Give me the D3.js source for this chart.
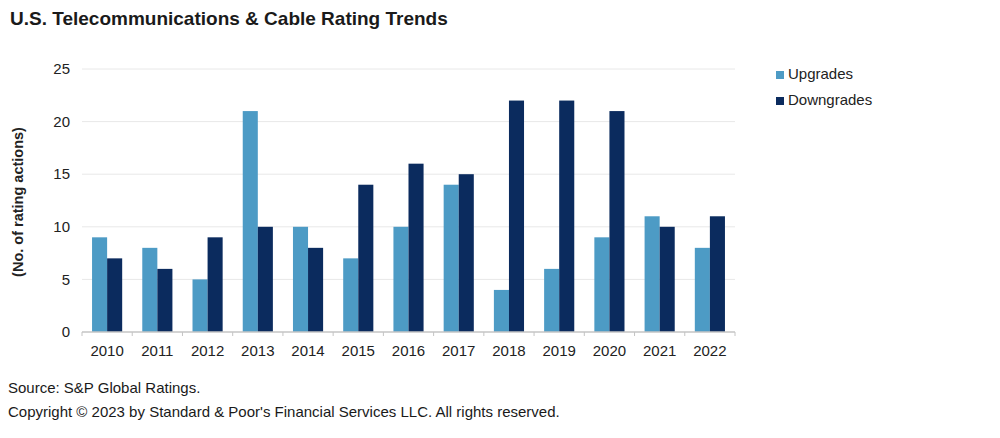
<!DOCTYPE html>
<html><head><meta charset="utf-8">
<script src="https://cdn.jsdelivr.net/npm/d3@7"></script>
<style>
body{margin:0;background:#fff;}
text{font-family:"Liberation Sans",Arial,sans-serif;}
</style></head>
<body><svg id="c" width="1000" height="438"></svg>
<script>
const years = ["2010","2011","2012","2013","2014","2015","2016","2017","2018","2019","2020","2021","2022"];
const upgrades = [9,8,5,21,10,7,10,14,4,6,9,11,8];
const downgrades = [7,6,9,10,8,14,16,15,22,22,21,10,11];
const yTicks = [0,5,10,15,20,25];
const seriesNames = ["Upgrades","Downgrades"];
const colors = ["#4d9bc5","#0b2b5e"];

(function(){
const svg = d3.select("#c");
svg.append("rect").attr("width",1000).attr("height",438).attr("fill","#fff");

const pLeft=82, pRight=735, pTop=69, pBottom=332;
const x = d3.scaleBand().domain(years).range([pLeft,pRight]).paddingInner(0.4).paddingOuter(0.2);
const y = d3.scaleLinear().domain([0,25]).range([pBottom,pTop]);

// gridlines
svg.append("g").selectAll("line").data(yTicks.filter(d=>d>0)).join("line")
  .attr("x1",pLeft).attr("x2",pRight).attr("y1",d=>y(d)).attr("y2",d=>y(d))
  .attr("stroke","#e8e8e8").attr("stroke-width",1);

// y labels
svg.append("g").selectAll("text").data(yTicks).join("text")
  .attr("x",70).attr("y",d=>y(d)).attr("dy","0.35em").attr("text-anchor","end")
  .attr("font-size",15).attr("fill","#222").text(d=>d);

// bars
const half = x.bandwidth()/2;
const g = svg.append("g");
years.forEach((yr,i)=>{
  g.append("rect").attr("x",x(yr)).attr("width",half).attr("y",y(upgrades[i])).attr("height",y(0)-y(upgrades[i])).attr("fill",colors[0]);
  g.append("rect").attr("x",x(yr)+half).attr("width",half).attr("y",y(downgrades[i])).attr("height",y(0)-y(downgrades[i])).attr("fill",colors[1]);
});

// x axis
const xa = svg.append("g").attr("transform",`translate(0,${pBottom})`);
xa.append("line").attr("x1",pLeft).attr("x2",pRight).attr("stroke","#c4c4c4").attr("stroke-width",1.5);
const step = x.step();
const bounds = d3.range(years.length+1).map(i=>pLeft+i*step);
xa.selectAll("line.t").data(bounds).join("line").attr("class","t")
  .attr("x1",d=>d).attr("x2",d=>d).attr("y1",0).attr("y2",4).attr("stroke","#c4c4c4");
xa.selectAll("text").data(years).join("text")
  .attr("x",d=>x(d)+x.bandwidth()/2).attr("y",24).attr("text-anchor","middle")
  .attr("font-size",15).attr("fill","#222").text(d=>d);

// y title
svg.append("text").attr("transform","translate(23,202) rotate(-90)").attr("text-anchor","middle")
  .attr("font-size",14.5).attr("font-weight","bold").attr("fill","#222").text("(No. of rating actions)");

// title
svg.append("text").attr("x",10).attr("y",25).attr("font-size",19).attr("font-weight","bold").attr("fill","#1a1a1a")
  .text("U.S. Telecommunications & Cable Rating Trends");

// legend
const lg = svg.append("g");
seriesNames.forEach((n,i)=>{
  lg.append("rect").attr("x",776).attr("y",71+i*26).attr("width",8).attr("height",8).attr("fill",colors[i]);
  lg.append("text").attr("x",788).attr("y",74+i*26).attr("dy","0.35em").attr("font-size",15).attr("fill","#222").text(n);
});

// footer
svg.append("text").attr("x",8).attr("y",393).attr("font-size",15).attr("fill","#1a1a1a").text("Source: S&P Global Ratings.");
svg.append("text").attr("x",8).attr("y",417).attr("font-size",15).attr("fill","#1a1a1a").text("Copyright © 2023 by Standard & Poor's Financial Services LLC. All rights reserved.");
})();
</script></body></html>
